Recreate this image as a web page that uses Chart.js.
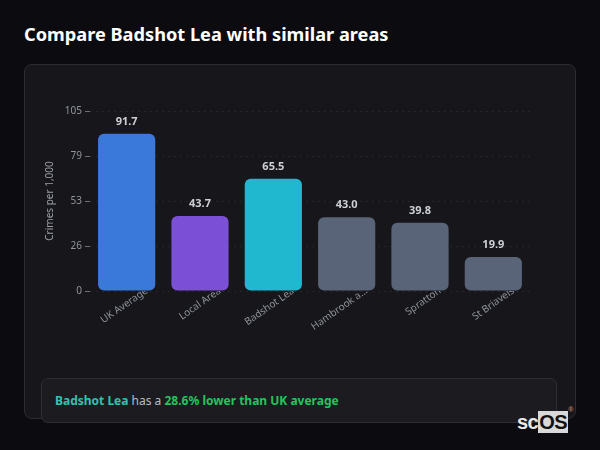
<!DOCTYPE html>
<html>
<head>
<meta charset="utf-8">
<script src="https://cdn.jsdelivr.net/npm/chart.js@4.4.0/dist/chart.umd.min.js"></script>
<style>
  html, body { margin:0; padding:0; background:#0c0c10; width:600px; height:450px; overflow:hidden; font-family:"Noto Sans", "Open Sans", sans-serif; }
  #title { position:absolute; left:24px; top:22px; color:#ffffff; font-size:18.2px; font-weight:700; letter-spacing:0; }
  #card { position:absolute; left:24px; top:64px; width:550px; height:353px; background:#17171b; border:1px solid #2c2c32; border-radius:8px; }
  #wrap { position:absolute; left:24px; top:64px; width:552px; height:300px; }
  #note { position:absolute; left:41px; top:378px; width:516px; height:45px; box-sizing:border-box; background:#1c1c20; border:1px solid #2e2e34; border-radius:7px; font-size:12px; line-height:43px; padding-left:13px; color:#b8bcc4; }
  #note .a { color:#2ec4b0; font-weight:700; }
  #note .g { color:#22c55e; font-weight:700; }
  #logo { position:absolute; left:517px; top:409px; font-family:"Liberation Sans", Arial, sans-serif; font-size:20px; font-weight:700; color:#e8e8e8; line-height:19px; letter-spacing:-0.5px; }
  #logo .os { background:#d9d9d9; color:#111; padding:0 1px; }
  #logo sup { font-size:7px; color:#c08060; position:relative; top:-9px; }
</style>
</head>
<body>
<div id="title">Compare Badshot Lea with similar areas</div>
<div id="card"></div>
<div id="wrap"><canvas id="c"></canvas></div>
<div id="note"><span class="a">Badshot Lea</span> has a <span class="g">28.6% lower than UK average</span></div>
<div id="logo">sc<span class="os">OS</span><sup>®</sup></div>
<script>
const categories = ["UK Average", "Local Area", "Badshot Lea", "Hambrook a...", "Spratton", "St Briavels"];
const values = [91.7, 43.7, 65.5, 43.0, 39.8, 19.9];
const barColors = ["#3a78d9", "#7b4fd6", "#1fb8cf", "#5a6478", "#5a6478", "#5a6478"];
const yTicks = [0, 26.25, 52.5, 78.75, 105];

const valueLabels = {
  id: 'valueLabels',
  afterDatasetsDraw(chart) {
    const ctx = chart.ctx;
    const meta = chart.getDatasetMeta(0);
    ctx.save();
    ctx.font = 'bold 11px "Noto Sans", sans-serif';
    ctx.fillStyle = '#cdd0d6';
    ctx.textAlign = 'center';
    ctx.textBaseline = 'middle';
    meta.data.forEach((bar, i) => {
      ctx.fillText(values[i].toFixed(1), bar.x, bar.y - 12);
    });
    ctx.restore();
  }
};

new Chart(document.getElementById('c'), {
  type: 'bar',
  data: {
    labels: categories,
    datasets: [{
      data: values,
      backgroundColor: barColors,
      borderRadius: 6,
      borderSkipped: false,
      barPercentage: 0.78,
      categoryPercentage: 1.0
    }]
  },
  options: {
    responsive: true,
    maintainAspectRatio: false,
    animation: false,
    layout: { padding: { left: 20, right: 46, top: 47, bottom: 0 } },
    plugins: { legend: { display: false }, tooltip: { enabled: false } },
    scales: {
      x: {
        grid: { display: false },
        border: { display: false },
        ticks: {
          z: 1,
          color: '#8e939c',
          font: { family: '"Noto Sans", sans-serif', size: 10 },
          minRotation: 35, maxRotation: 35,
          labelOffset: 20,
          padding: -14,
          autoSkip: false
        },
        afterFit(scale) { scale.height = 73; }
      },
      y: {
        min: 0, max: 105,
        afterBuildTicks(scale) { scale.ticks = yTicks.map(v => ({ value: v })); },
        afterFit(scale) { scale.width = 46; },
        title: { display: true, text: 'Crimes per 1,000', color: '#9a9ea6', font: { family: '"Noto Sans", sans-serif', size: 10 }, padding: { top: 0, bottom: 0 } },
        border: { display: false, dash: [2, 4] },
        grid: { color: 'rgba(255,255,255,0.07)', tickColor: '#6b6f78', tickLength: 5, drawTicks: true },
        ticks: {
          color: '#8e939c',
          font: { family: '"Noto Sans", sans-serif', size: 10 },
          padding: 3,
          callback: (v) => Math.round(v)
        }
      }
    }
  },
  plugins: [valueLabels]
});
</script>
</body>
</html>
